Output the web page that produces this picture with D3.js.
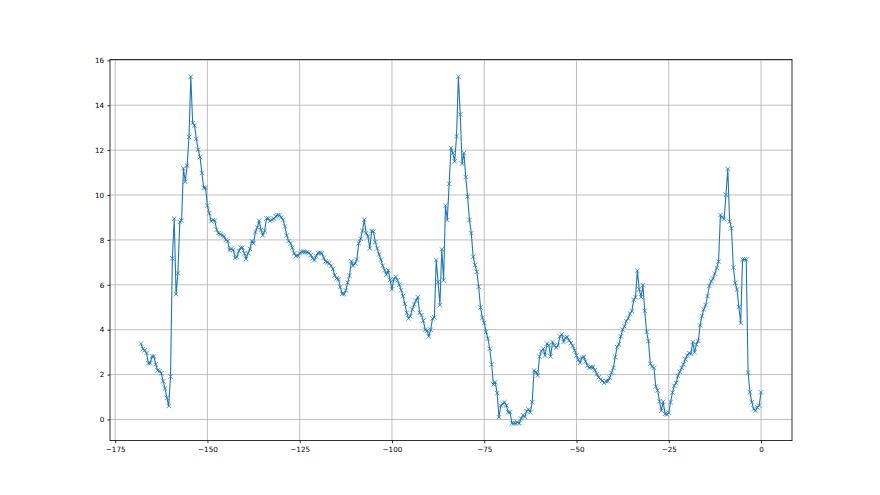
<!DOCTYPE html>
<html><head><meta charset="utf-8">
<script src="https://cdn.jsdelivr.net/npm/d3@7"></script>
<style>body{margin:0;background:#fff}svg{display:block}</style>
</head><body><svg id="c" width="880" height="495"></svg>
<script>
const xValues = [
-168,-167.5,-167,-166.5,-166,-165.5,-165,-164.5,-164,-163.5,
-163,-162.5,-162,-161.5,-161,-160.5,-160,-159.5,-159,-158.5,
-158,-157.5,-157,-156.5,-156,-155.5,-155,-154.5,-154,-153.5,
-153,-152.5,-152,-151.5,-151,-150.5,-150,-149.5,-149,-148.5,
-148,-147.5,-147,-146.5,-146,-145.5,-145,-144.5,-144,-143.5,
-143,-142.5,-142,-141.5,-141,-140.5,-140,-139.5,-139,-138.5,
-138,-137.5,-137,-136.5,-136,-135.5,-135,-134.5,-134,-133.5,
-133,-132.5,-132,-131.5,-131,-130.5,-130,-129.5,-129,-128.5,
-128,-127.5,-127,-126.5,-126,-125.5,-125,-124.5,-124,-123.5,
-123,-122.5,-122,-121.5,-121,-120.5,-120,-119.5,-119,-118.5,
-118,-117.5,-117,-116.5,-116,-115.5,-115,-114.5,-114,-113.5,
-113,-112.5,-112,-111.5,-111,-110.5,-110,-109.5,-109,-108.5,
-108,-107.5,-107,-106.5,-106,-105.5,-105,-104.5,-104,-103.5,
-103,-102.5,-102,-101.5,-101,-100.5,-100,-99.5,-99,-98.5,
-98,-97.5,-97,-96.5,-96,-95.5,-95,-94.5,-94,-93.5,
-93,-92.5,-92,-91.5,-91,-90.5,-90,-89.5,-89,-88.5,
-88,-87.5,-87,-86.5,-86,-85.5,-85,-84.5,-84,-83.5,
-83,-82.5,-82,-81.5,-81,-80.5,-80,-79.5,-79,-78.5,
-78,-77.5,-77,-76.5,-76,-75.5,-75,-74.5,-74,-73.5,
-73,-72.5,-72,-71.5,-71,-70.5,-70,-69.5,-69,-68.5,
-68,-67.5,-67,-66.5,-66,-65.5,-65,-64.5,-64,-63.5,
-63,-62.5,-62,-61.5,-61,-60.5,-60,-59.5,-59,-58.5,
-58,-57.5,-57,-56.5,-56,-55.5,-55,-54.5,-54,-53.5,
-53,-52.5,-52,-51.5,-51,-50.5,-50,-49.5,-49,-48.5,
-48,-47.5,-47,-46.5,-46,-45.5,-45,-44.5,-44,-43.5,
-43,-42.5,-42,-41.5,-41,-40.5,-40,-39.5,-39,-38.5,
-38,-37.5,-37,-36.5,-36,-35.5,-35,-34.5,-34,-33.5,
-33,-32.5,-32,-31.5,-31,-30.5,-30,-29.5,-29,-28.5,
-28,-27.5,-27,-26.5,-26,-25.5,-25,-24.5,-24,-23.5,
-23,-22.5,-22,-21.5,-21,-20.5,-20,-19.5,-19,-18.5,
-18,-17.5,-17,-16.5,-16,-15.5,-15,-14.5,-14,-13.5,
-13,-12.5,-12,-11.5,-11,-10.5,-10,-9.5,-9,-8.5,
-8,-7.5,-7,-6.5,-6,-5.5,-5,-4.5,-4,-3.5,
-3,-2.5,-2,-1.5,-1,-0.5,0
];
const yValues = [
3.38,3.14,3.08,2.96,2.51,2.51,2.81,2.81,2.45,2.18,
2.15,2.06,1.70,1.38,0.96,0.60,1.91,7.18,8.95,5.58,
6.51,8.80,8.86,11.19,10.59,11.31,12.59,15.27,13.21,13.09,
12.50,12.02,11.69,10.98,10.32,10.32,9.52,9.19,8.83,8.89,
8.86,8.45,8.30,8.25,8.20,8.15,8.00,7.95,7.55,7.60,
7.55,7.20,7.25,7.50,7.65,7.65,7.40,7.15,7.40,7.60,
7.95,7.85,8.35,8.55,8.86,8.45,8.20,8.40,8.95,8.95,
8.85,8.90,8.95,9.05,9.10,9.10,9.00,8.90,8.60,8.20,
7.95,7.85,7.65,7.40,7.28,7.30,7.40,7.47,7.47,7.46,
7.45,7.42,7.33,7.18,7.10,7.28,7.42,7.43,7.40,7.20,
7.04,7.00,6.95,6.85,6.70,6.42,6.28,6.25,5.90,5.60,
5.58,5.75,6.10,6.40,7.05,6.85,6.95,7.13,7.85,8.05,
8.40,8.90,8.30,8.15,7.62,8.40,8.37,7.90,7.62,7.35,
7.12,6.85,6.65,6.45,6.65,6.22,5.80,6.25,6.35,6.20,
6.00,5.76,5.50,5.15,4.75,4.50,4.60,4.90,5.12,5.30,
5.45,4.75,4.65,4.40,4.00,3.95,3.70,4.00,4.50,4.55,
7.10,6.13,5.09,7.58,6.21,9.52,8.89,10.50,12.10,11.87,
11.50,12.62,15.27,13.59,11.40,11.87,10.80,9.93,8.89,8.30,
7.25,6.88,6.58,5.91,4.99,4.53,4.30,3.90,3.60,3.15,
2.45,1.56,1.66,1.17,0.10,0.62,0.69,0.77,0.62,0.32,
0.32,-0.17,-0.17,-0.17,-0.13,-0.17,0.04,0.19,0.12,0.37,
0.45,0.32,0.77,2.18,2.11,1.96,2.81,3.05,3.15,2.85,
3.38,3.30,2.81,3.45,3.30,3.20,3.30,3.70,3.79,3.45,
3.64,3.67,3.52,3.40,3.28,3.08,2.85,2.66,2.53,2.76,
2.78,2.58,2.40,2.30,2.33,2.33,2.20,2.02,1.88,1.79,
1.72,1.63,1.71,1.71,1.86,2.08,2.30,2.78,3.22,3.35,
3.70,4.00,4.15,4.38,4.50,4.72,4.83,5.33,5.45,6.62,
5.80,5.45,5.98,4.84,3.90,3.49,2.48,2.36,2.30,1.47,
1.29,0.81,0.39,0.79,0.25,0.22,0.30,0.77,1.20,1.50,
1.63,1.95,2.12,2.30,2.46,2.68,2.85,2.95,2.93,3.45,
3.00,3.35,3.50,4.19,4.60,4.90,5.10,5.50,5.95,6.15,
6.28,6.50,6.75,7.03,9.11,9.01,8.92,10.01,11.16,8.82,
8.52,6.77,6.09,5.79,5.01,4.30,7.13,7.13,7.13,2.09,
1.21,0.77,0.47,0.39,0.54,0.62,1.21
];
const xTicks = [-175,-150,-125,-100,-75,-50,-25,0];
const yTicks = [0,2,4,6,8,10,12,14,16];

const L = 110, R = 792, T = 59.4, B = 440.6;
const svg = d3.select('#c');
const xExt = d3.extent(xValues), yExt = d3.extent(yValues);
const xPad = (xExt[1]-xExt[0])*0.05, yPad = (yExt[1]-yExt[0])*0.05;
const x = d3.scaleLinear().domain([xExt[0]-xPad, xExt[1]+xPad]).range([L, R]);
const y = d3.scaleLinear().domain([yExt[0]-yPad, yExt[1]+yPad]).range([B, T]);

const grid = svg.append('g').attr('stroke', '#b0b0b0').attr('stroke-width', 0.8);
grid.selectAll('line.gx').data(xTicks).join('line').attr('class','gx')
  .attr('x1', d => x(d)).attr('x2', d => x(d)).attr('y1', T).attr('y2', B);
grid.selectAll('line.gy').data(yTicks).join('line').attr('class','gy')
  .attr('y1', d => y(d)).attr('y2', d => y(d)).attr('x1', L).attr('x2', R);

const pts = xValues.map((v, i) => [v, yValues[i]]);
svg.append('path').datum(pts)
  .attr('d', d3.line().x(d => x(d[0])).y(d => y(d[1])))
  .attr('fill', 'none').attr('stroke', '#1f77b4').attr('stroke-width', 1.1)
  .attr('stroke-linejoin', 'round');
const h = 2.2;
svg.append('g').selectAll('path').data(pts).join('path')
  .attr('transform', d => `translate(${x(d[0])},${y(d[1])})`)
  .attr('d', `M${-h},${-h}L${h},${h}M${-h},${h}L${h},${-h}`)
  .attr('stroke', '#1f77b4').attr('stroke-width', 0.75).attr('fill', 'none');

svg.append('rect').attr('x', L).attr('y', T).attr('width', R-L).attr('height', B-T)
  .attr('fill', 'none').attr('stroke', '#000').attr('stroke-width', 0.8);

const fmt = d3.format('d');
const gx = svg.append('g').attr('transform', `translate(0,${B})`)
  .call(d3.axisBottom(x).tickValues(xTicks).tickSize(2.6).tickPadding(3.2).tickFormat(fmt));
const gy = svg.append('g').attr('transform', `translate(${L},0)`)
  .call(d3.axisLeft(y).tickValues(yTicks).tickSize(2.6).tickPadding(3.2).tickFormat(fmt));
[gx, gy].forEach(g => {
  g.select('.domain').remove();
  g.selectAll('.tick line').attr('stroke', '#000').attr('stroke-width', 0.8);
  g.selectAll('.tick text').attr('font-family', 'DejaVu Sans').attr('font-size', 7.2).attr('fill', '#000');
});
</script></body></html>
